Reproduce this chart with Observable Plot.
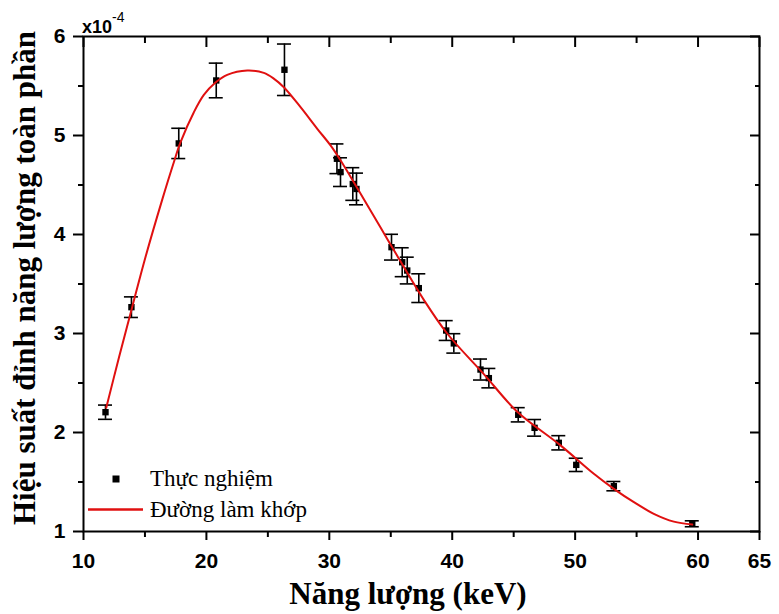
<!DOCTYPE html>
<html><head><meta charset="utf-8">
<script src="https://cdn.jsdelivr.net/npm/d3@7"></script>
<script src="https://cdn.jsdelivr.net/npm/@observablehq/plot@0.6"></script>
<style>body{margin:0;background:#fff;} #chart{width:779px;height:614px;}</style>
</head><body><div id="chart"></div>
<script>
// Experimental points (keV, efficiency ×10^-4, error)
const energy = [11.79, 13.9, 17.75, 20.8, 26.35, 30.62, 30.91, 31.91, 32.21, 35.06, 35.93, 36.34, 37.28, 39.51, 40.13, 42.30, 42.98, 45.37, 46.70, 48.67, 50.09, 53.15, 59.53];
const efficiency = [2.205, 3.266, 4.92, 5.556, 5.664, 4.765, 4.63, 4.51, 4.46, 3.872, 3.72, 3.636, 3.458, 3.03, 2.90, 2.636, 2.549, 2.179, 2.047, 1.896, 1.673, 1.458, 1.078];
const errors = [0.072, 0.104, 0.153, 0.175, 0.26, 0.15, 0.145, 0.165, 0.16, 0.13, 0.146, 0.135, 0.145, 0.1, 0.098, 0.106, 0.098, 0.072, 0.084, 0.072, 0.067, 0.047, 0.03];
// Fitted curve
const fitEnergy = [11.85, 12.9, 13.96, 15.04, 16.40, 17.35, 17.89, 18.98, 19.79, 20.74, 21.69, 23.32, 24.67, 25.48, 26.30, 27.66, 29.02, 30.1, 30.91, 32.27, 34.17, 35.5, 37.69, 39.59, 42.57, 45.29, 48.81, 51.52, 53.15, 54.78, 56.4, 58.03, 59.53];
const fitEfficiency = [2.25, 2.765, 3.266, 3.77, 4.35, 4.73, 4.93, 5.235, 5.41, 5.535, 5.613, 5.657, 5.633, 5.575, 5.488, 5.286, 5.068, 4.90, 4.75, 4.47, 4.07, 3.79, 3.34, 3.0, 2.59, 2.21, 1.87, 1.583, 1.431, 1.296, 1.179, 1.10, 1.07];
// Ticks
const xMajorTicks = [10, 20, 30, 40, 50, 60, 65];
const xMinorTicks = [15, 25, 35, 45, 55];
const yMajorTicks = [1, 2, 3, 4, 5, 6];
const yMinorTicks = [1.5, 2.5, 3.5, 4.5, 5.5];
// Texts
const xTitle = "Năng lượng (keV)";
const yTitle = "Hiệu suất đỉnh năng lượng toàn phần";
const legendLabels = ["Thực nghiệm", "Đường làm khớp"];

const points = energy.map((e, i) => ({x: e, y: efficiency[i], err: errors[i]}));
const fit = fitEnergy.map((e, i) => ({x: e, y: fitEfficiency[i]}));

const tickFont = {fontFamily: "Liberation Sans, Arial, sans-serif", fontSize: 21, fontWeight: "bold"};
const blank = () => "";
const intFmt = d => String(d);

const chart = Plot.plot({
  width: 779, height: 614,
  marginLeft: 83, marginRight: 20, marginTop: 36, marginBottom: 83,
  style: {background: "white", color: "black", fontFamily: "Liberation Sans, Arial, sans-serif"},
  x: {domain: [10, 65]},
  y: {domain: [1, 6]},
  marks: [
    // error bars
    Plot.ruleX(points, {x: "x", y1: d => d.y - d.err, y2: d => d.y + d.err, stroke: "black", strokeWidth: 1.6}),
    Plot.ruleY(points, {y: d => d.y - d.err, x1: "x", x2: "x", insetLeft: -7, insetRight: -7, stroke: "black", strokeWidth: 1.6}),
    Plot.ruleY(points, {y: d => d.y + d.err, x1: "x", x2: "x", insetLeft: -7, insetRight: -7, stroke: "black", strokeWidth: 1.6}),
    Plot.dot(points, {x: "x", y: "y", symbol: "square", r: 3.6, fill: "black", stroke: "none"}),
    Plot.line(fit, {x: "x", y: "y", stroke: "#e01010", strokeWidth: 2, curve: "catmull-rom"}),
    // axes
    Plot.axisX({ticks: xMajorTicks, tickSize: 9, tickPadding: 13, tickFormat: intFmt, strokeWidth: 2, label: null, ...tickFont}),
    Plot.axisX({ticks: xMinorTicks, tickSize: 6, tickFormat: blank, strokeWidth: 2, label: null}),
    Plot.axisX({anchor: "top", ticks: xMajorTicks, tickSize: -10, tickFormat: blank, strokeWidth: 2, label: null}),
    Plot.axisX({anchor: "top", ticks: xMinorTicks, tickSize: -6, tickFormat: blank, strokeWidth: 2, label: null}),
    Plot.axisY({ticks: yMajorTicks, tickSize: 10, tickPadding: 8, tickFormat: intFmt, strokeWidth: 2, label: null, ...tickFont}),
    Plot.axisY({ticks: yMinorTicks, tickSize: 5, tickFormat: blank, strokeWidth: 2, label: null}),
    Plot.axisY({anchor: "right", ticks: yMajorTicks, tickSize: -10, tickFormat: blank, strokeWidth: 2, label: null}),
    Plot.axisY({anchor: "right", ticks: yMinorTicks, tickSize: -5, tickFormat: blank, strokeWidth: 2, label: null}),
    Plot.frame({stroke: "black", strokeWidth: 2})
  ]
});

const svg = d3.select(chart);
const serif = "'Liberation Serif', 'Times New Roman', serif";
// axis titles
svg.append("text").attr("x", 408).attr("y", 604).attr("text-anchor", "middle")
  .style("font-family", serif).style("font-size", "31px").style("font-weight", "bold").text(xTitle);
svg.append("text").attr("transform", "translate(35,278) rotate(-90)").attr("text-anchor", "middle")
  .style("font-family", serif).style("font-size", "31px").style("font-weight", "bold").text(yTitle);
// multiplier
const mult = svg.append("text").attr("x", 82).attr("y", 33).attr("text-anchor", "start")
  .style("font-family", "Liberation Sans, Arial, sans-serif").style("font-size", "18px").style("font-weight", "bold");
mult.append("tspan").text("x10");
mult.append("tspan").attr("dy", -11).style("font-size", "14px").style("font-weight", "normal").text("-4");
// legend
svg.append("rect").attr("x", 112.5).attr("y", 475.5).attr("width", 7).attr("height", 7).attr("fill", "black");
svg.append("text").attr("x", 150).attr("y", 486).attr("text-anchor", "start").style("font-family", serif).style("font-size", "23px").text(legendLabels[0]);
svg.append("line").attr("x1", 88).attr("x2", 143).attr("y1", 509.5).attr("y2", 509.5).attr("stroke", "#e01010").attr("stroke-width", 2.5);
svg.append("text").attr("x", 150).attr("y", 517).attr("text-anchor", "start").style("font-family", serif).style("font-size", "23px").text(legendLabels[1]);

document.getElementById("chart").appendChild(chart);
</script>
</body></html>
